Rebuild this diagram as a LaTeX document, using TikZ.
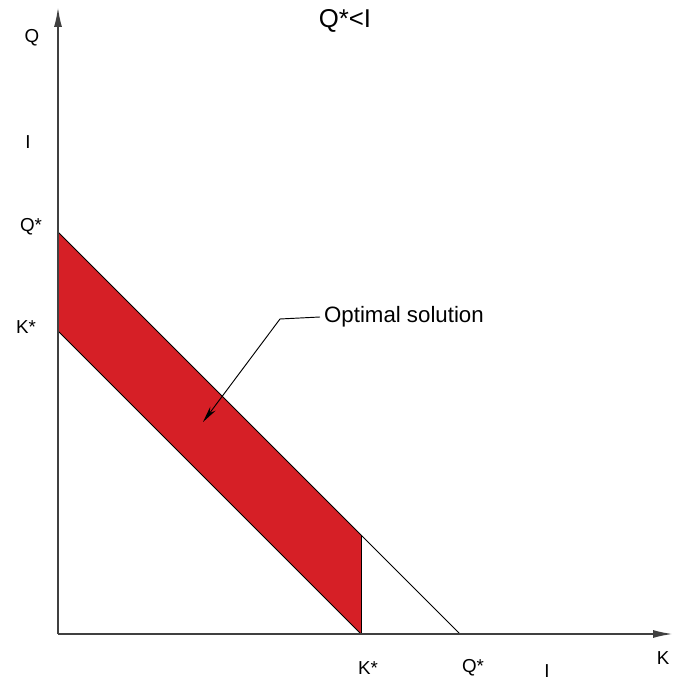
\documentclass[tikz,border=0pt]{standalone}
\usepackage{fontspec}
\setmainfont{Liberation Sans}
\usetikzlibrary{arrows.meta}
\definecolor{optred}{RGB}{214,31,38}

\begin{document}
\begin{tikzpicture}[x=0.03cm, y=0.03cm, axis/.style={-{Latex[length=6mm, width=2.4mm]}, line width=1.6pt, black!75}, edge/.style={line width=0.8pt}, tick/.style={font=\fontsize{16}{16}\selectfont}, title/.style={font=\fontsize{22}{22}\selectfont}, note/.style={font=\fontsize{19}{19}\selectfont}, pointer/.style={-{Stealth[length=5mm, width=2mm]}, line width=0.8pt}]
\useasboundingbox (-58,-48) rectangle (617,634);

\coordinate (O) at (0,0); \coordinate (Kend) at (615,0); \coordinate (Qend) at (0,627);
\coordinate (Qy) at (0,402); \coordinate (Qx) at (402,0); \coordinate (Ky) at (0,303); \coordinate (Kx) at (303,0); \coordinate (Kq) at (303,99);
\fill[optred] (Qy)--(Kq)--(Kx)--(Ky)--cycle;
\draw[edge] (Qy)--(Qx); \draw[edge] (Ky)--(Kx); \draw[edge] (Kx)--(Kq);
\draw[axis] (O)--(Kend); \draw[axis] (O)--(Qend);
\node[tick] (lblQ) at (-26,596) {Q}; \node[tick] (lblIy) at (-30,492) {I}; \node[tick] (lblQy) at (-27,407) {Q*}; \node[tick] (lblKy) at (-32,307) {K*};
\node[tick] (lblKx) at (310,-34) {K*}; \node[tick] (lblQx) at (415,-34) {Q*}; \node[tick] (lblIx) at (489,-37) {I}; \node[tick] (lblK) at (605,-24) {K};
\node[title] (head) at (287,613) {Q*<I};
\node[note, anchor=west] (opt) at (262,317) {Optimal solution}; \coordinate (bend) at (222,315); \coordinate (tip) at (145,212);
\draw[pointer] (opt.west)--(bend)--(tip);
\end{tikzpicture}
\end{document}
